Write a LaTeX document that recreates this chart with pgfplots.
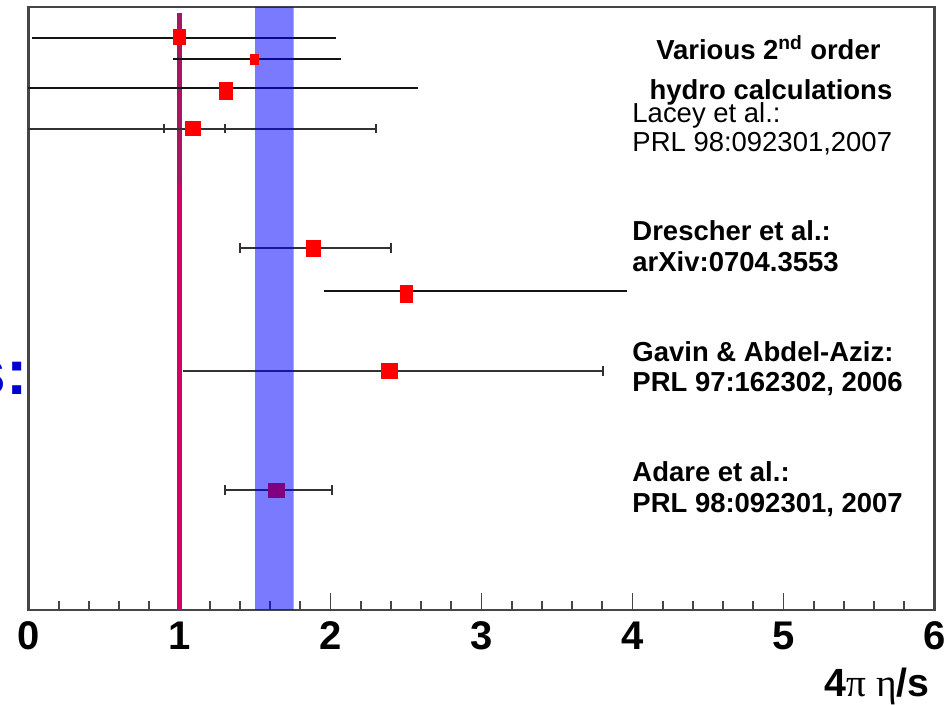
\documentclass[border=0pt]{standalone}
\usepackage{pgfplots}
\pgfplotsset{compat=1.18}
\usepackage{fontspec}
\setmainfont{Liberation Sans}
\newfontfamily\greekserif{Liberation Serif}
\definecolor{mred}{RGB}{255,0,0}
\definecolor{mpurple}{RGB}{128,0,128}
\definecolor{magline}{RGB}{212,0,106}
\definecolor{magdark}{RGB}{168,22,94}
\definecolor{sblue}{RGB}{0,0,204}
\definecolor{axgray}{RGB}{70,70,70}
\definecolor{barblack}{RGB}{20,20,20}
\definecolor{barthin}{RGB}{50,50,50}
\begin{document}
\begin{tikzpicture}
\begin{axis}[
  width=679.5pt, height=452.25pt, scale only axis,
  xmin=0, xmax=6, ymin=0, ymax=603,
  clip=false,
  axis line style={line width=1.6pt, color=axgray},
  xtick={0,1,2,3,4,5,6},
  minor x tick num=4,
  xtick pos=bottom,
  ytick=\empty,
  tick align=inside,
  major tick length=12.75pt, minor tick length=6.75pt,
  every tick/.style={line width=1.4pt, color=axgray},
  xticklabel style={font=\fontsize{30}{30}\selectfont\bfseries, anchor=base, yshift=-29.5pt},
  /pgf/number format/assume math mode=true,
]
% eta/s = 1/4pi line
\addplot[magline, line width=3.75pt] coordinates {(1,0) (1,427)};
\addplot[magdark, line width=3.75pt] coordinates {(1,427) (1,597.3)};

% thick error bars (no caps)
\addplot[barblack, line width=1.7pt] coordinates {(0.02,572.3) (2.036,572.3)};
\addplot[barblack, line width=1.7pt] coordinates {(0.955,550.7) (2.07,550.7)};
\addplot[barblack, line width=1.7pt] coordinates {(0.0,521.7) (2.58,521.7)};
\addplot[barblack, line width=1.7pt] coordinates {(1.957,319) (3.964,319)};

% thin error bars with caps
\addplot[barthin, line width=1.4pt] coordinates {(0.0,481.3) (2.301,481.3)};
\addplot[barthin, only marks, mark=|, mark size=3.5pt, mark options={line width=1.6pt}] coordinates {(0.897,481.3) (1.301,481.3) (2.301,481.3)};
\addplot[barthin, line width=1.4pt] coordinates {(1.403,361.7) (2.399,361.7)};
\addplot[barthin, only marks, mark=|, mark size=3.75pt, mark options={line width=1.6pt}] coordinates {(1.403,361.7) (2.399,361.7)};
\addplot[barthin, line width=1.4pt] coordinates {(1.021,239.3) (3.803,239.3)};
\addplot[barthin, only marks, mark=|, mark size=3.75pt, mark options={line width=1.6pt}] coordinates {(3.803,239.3)};
\addplot[barthin, line width=1.4pt] coordinates {(1.301,119.7) (2.008,119.7)};
\addplot[barthin, only marks, mark=|, mark size=3.75pt, mark options={line width=1.6pt}] coordinates {(1.301,119.7) (2.008,119.7)};

% markers
\addplot[only marks, mark=square*, color=mred, mark size=5.6pt, mark options={xscale=0.82}] coordinates {(1.0,573)};
\addplot[only marks, mark=square*, color=mred, mark size=4.1pt, mark options={xscale=0.73}] coordinates {(1.493,550.7)};
\addplot[only marks, mark=square*, color=mred, mark size=6.25pt, mark options={xscale=0.78}] coordinates {(1.308,519)};
\addplot[only marks, mark=square*, color=mred, mark size=5pt, mark options={xscale=1.12}] coordinates {(1.085,481.7)};
\addplot[only marks, mark=square*, color=mred, mark size=5.75pt, mark options={xscale=0.91}] coordinates {(1.886,361.7)};
\addplot[only marks, mark=square*, color=mred, mark size=6.25pt, mark options={xscale=0.7}] coordinates {(2.5,316)};
\addplot[only marks, mark=square*, color=mred, mark size=5.6pt, mark options={xscale=1.04}] coordinates {(2.389,239.3)};
\addplot[only marks, mark=square*, color=mpurple, mark size=5.25pt, mark options={xscale=1.12}] coordinates {(1.641,119.7)};

% experimental band (semi-transparent, on top)
\addplot[draw=none, fill=blue, fill opacity=0.52] coordinates {(1.5,0) (1.5,603) (1.756,603) (1.756,0)} \closedcycle;

% texts
\node[anchor=base, inner sep=0, font=\fontsize{20.6}{20.6}\selectfont\bfseries] at (axis cs:4.9,550.7) {Various 2\textsuperscript{nd} order};
\node[anchor=base, inner sep=0, font=\fontsize{20.6}{20.6}\selectfont\bfseries] at (axis cs:4.917,510.7) {hydro calculations};
\node[anchor=base west, inner sep=0, font=\fontsize{20.6}{20.6}\selectfont] at (axis cs:3.998,487.3) {Lacey et al.:};
\node[anchor=base west, inner sep=0, font=\fontsize{20.6}{20.6}\selectfont] at (axis cs:3.998,458.3) {PRL 98:092301,2007};
\node[anchor=base west, inner sep=0, font=\fontsize{20.6}{20.6}\selectfont\bfseries] at (axis cs:3.998,369.3) {Drescher et al.:};
\node[anchor=base west, inner sep=0, font=\fontsize{20.6}{20.6}\selectfont\bfseries] at (axis cs:3.998,338.3) {arXiv:0704.3553};
\node[anchor=base west, inner sep=0, font=\fontsize{20.6}{20.6}\selectfont\bfseries] at (axis cs:3.998,248.3) {Gavin \& Abdel-Aziz:};
\node[anchor=base west, inner sep=0, font=\fontsize{20.6}{20.6}\selectfont\bfseries] at (axis cs:3.998,218.3) {PRL 97:162302, 2006};
\node[anchor=base west, inner sep=0, font=\fontsize{20.6}{20.6}\selectfont\bfseries] at (axis cs:3.998,128.3) {Adare et al.:};
\node[anchor=base west, inner sep=0, font=\fontsize{20.6}{20.6}\selectfont\bfseries] at (axis cs:3.998,97) {PRL 98:092301, 2007};

% x label
\node[anchor=base east, inner sep=0, font=\fontsize{29.5}{29.5}\selectfont\bfseries] at (axis cs:5.97,-86.7) {4{\greekserif\mdseries π η}/s};

% cut-off slide text
\node[anchor=base east, inner sep=0, text=sblue, font=\fontsize{48}{48}\selectfont\bfseries] at (axis cs:-0.005,215) {s:};
\end{axis}
\pgfresetboundingbox
\path[use as bounding box] ([xshift=-21.375pt,yshift=-71.25pt]current axis.south west) rectangle ([xshift=13.125pt,yshift=5.25pt]current axis.north east);
\end{tikzpicture}
\end{document}
